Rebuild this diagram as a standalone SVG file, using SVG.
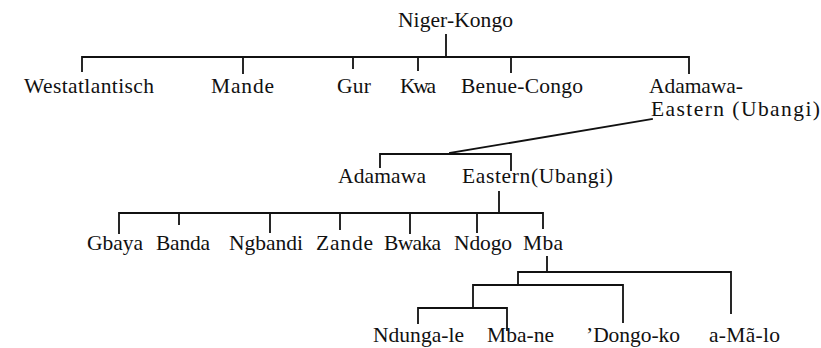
<svg xmlns="http://www.w3.org/2000/svg" width="821" height="348" viewBox="0 0 821 348">
<style>
text{font-family:"Liberation Serif","Times New Roman",serif;font-size:21.5px;fill:#111}
.c{fill:none;stroke:#111;stroke-width:1.8;stroke-linecap:square}
</style>
<rect width="821" height="348" fill="#fff"/>
<g id="connectors">
<path class="c" d="M446 35V57M82 57H689M82 57V71M243 57V73M353 57V68M418 57V70M511 57V72M689 57V73"/>
<path class="c" d="M450 153L652 119"/>
<path class="c" d="M380 154H511M380 154V167M511 154V170"/>
<path class="c" d="M499 192V213M119 213H543M119 213V233M179 213V224M270 213V232M340 213V229M410 213V233M477 213V232M543 213V228"/>
<path class="c" d="M547 257V272M518 272H731M731 272V313M518 272V285M473 285H623M623 285V322M473 285V308M418 308H507M418 308V323M507 308V330"/>
</g>
<g id="n-niger-kongo"><text x="398" y="27" textLength="115" lengthAdjust="spacing">Niger-Kongo</text></g>
<g id="n-westatlantisch"><text x="24" y="93" textLength="130" lengthAdjust="spacing">Westatlantisch</text></g>
<g id="n-mande"><text x="211" y="93" textLength="63" lengthAdjust="spacing">Mande</text></g>
<g id="n-gur"><text x="337" y="93" textLength="34" lengthAdjust="spacing">Gur</text></g>
<g id="n-kwa"><text x="400" y="93" textLength="36" lengthAdjust="spacing">Kwa</text></g>
<g id="n-benue-congo"><text x="461" y="93" textLength="122" lengthAdjust="spacing">Benue-Congo</text></g>
<g id="n-adamawa-eastern"><text x="649" y="93" textLength="94" lengthAdjust="spacing">Adamawa-</text><text x="651" y="116" textLength="169" lengthAdjust="spacing">Eastern (Ubangi)</text></g>
<g id="n-adamawa"><text x="338" y="183" textLength="88" lengthAdjust="spacing">Adamawa</text></g>
<g id="n-eastern"><text x="462" y="183" textLength="151" lengthAdjust="spacing">Eastern(Ubangi)</text></g>
<g id="n-gbaya"><text x="87" y="250" textLength="56" lengthAdjust="spacing">Gbaya</text></g>
<g id="n-banda"><text x="156" y="250" textLength="54" lengthAdjust="spacing">Banda</text></g>
<g id="n-ngbandi"><text x="229" y="250" textLength="74" lengthAdjust="spacing">Ngbandi</text></g>
<g id="n-zande"><text x="316" y="250" textLength="57" lengthAdjust="spacing">Zande</text></g>
<g id="n-bwaka"><text x="384" y="250" textLength="57" lengthAdjust="spacing">Bwaka</text></g>
<g id="n-ndogo"><text x="454" y="250" textLength="58" lengthAdjust="spacing">Ndogo</text></g>
<g id="n-mba"><text x="523" y="250" textLength="40" lengthAdjust="spacing">Mba</text></g>
<g id="n-ndunga-le"><text x="373" y="342" textLength="91" lengthAdjust="spacing">Ndunga-le</text></g>
<g id="n-mba-ne"><text x="487" y="342" textLength="67" lengthAdjust="spacing">Mba-ne</text></g>
<g id="n-dongo-ko"><text x="586" y="342" textLength="94" lengthAdjust="spacing">’Dongo-ko</text></g>
<g id="n-a-ma-lo"><text x="709" y="342" textLength="71" lengthAdjust="spacing">a-Mã-lo</text></g>
</svg>
